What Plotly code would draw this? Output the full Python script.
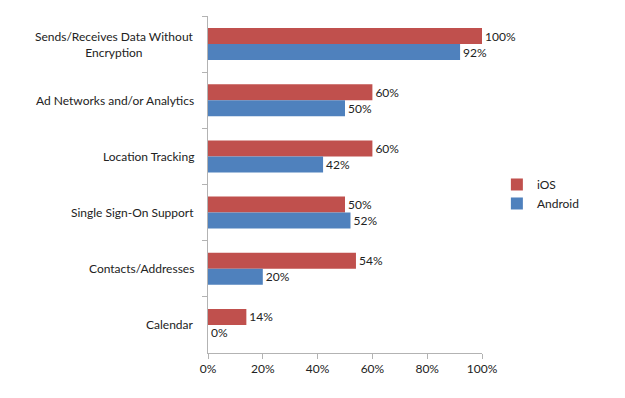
import plotly.graph_objects as go

categories = ["Sends/Receives Data Without<br>Encryption", "Ad Networks and/or Analytics",
              "Location Tracking", "Single Sign-On Support", "Contacts/Addresses", "Calendar"]
ios = [100, 60, 60, 50, 54, 14]
android = [92, 50, 42, 52, 20, 0]
tick_vals = [0, 20, 40, 60, 80, 100]
tick_text = ["0%", "20%", "40%", "60%", "80%", "100%"]

FONT = "Lato"
fig = go.Figure()
fig.add_trace(go.Bar(y=categories, x=ios, name="iOS", orientation="h",
                     marker=dict(color="#C0504D", line=dict(width=0)),
                     text=[f"{v}%" for v in ios], textposition="outside",
                     cliponaxis=False, textfont=dict(size=12, color="#222")))
fig.add_trace(go.Bar(y=categories, x=android, name="Android", orientation="h",
                     marker=dict(color="#4F81BD", line=dict(width=0)),
                     text=[f"{v}%" for v in android], textposition="outside",
                     cliponaxis=False, textfont=dict(size=12, color="#222")))

for c in categories:
    fig.add_annotation(x=0, xref="paper", y=c, yref="y", text=c, showarrow=False,
                       xanchor="right", xshift=-12, align="center",
                       font=dict(family=FONT, size=12, color="#222"))

fig.update_layout(
    width=625, height=398, barmode="group", bargap=0.43, bargroupgap=0,
    margin=dict(l=208, r=143, t=16, b=45, autoexpand=False),
    plot_bgcolor="white", paper_bgcolor="white",
    font=dict(family=FONT, size=12, color="#222"),
    legend=dict(xref="container", yref="container", x=0.795, y=0.5126,
                xanchor="left", yanchor="middle",
                font=dict(size=12), itemwidth=30, tracegroupgap=4),
    xaxis=dict(range=[0, 100], tickvals=tick_vals, ticktext=tick_text, automargin=False,
               showgrid=False, showline=True, linecolor="#B3B3B3", linewidth=1,
               ticks="outside", ticklen=5, tickcolor="#B3B3B3", zeroline=False,
               tickfont=dict(size=12)),
    yaxis=dict(autorange="reversed", showticklabels=False, showline=True, automargin=False,
               linecolor="#B3B3B3", linewidth=1, ticks="outside", ticklen=5,
               tickcolor="#B3B3B3", tickson="boundaries", showgrid=False),
)
fig.write_html("out.html", post_script="document.body.style.margin='0';",
               config={"displayModeBar": False})
